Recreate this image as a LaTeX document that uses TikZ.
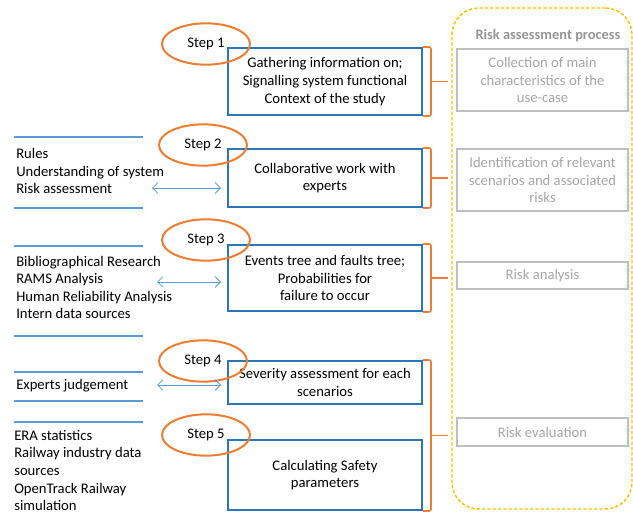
\documentclass[tikz,border=0pt]{standalone}
\usepackage{fontspec}
\setmainfont{Carlito}
\usepackage{tikz}
\usetikzlibrary{positioning,calc,arrows.meta,shapes.geometric}
\definecolor{boxblue}{RGB}{46,117,182}
\definecolor{lineblue}{RGB}{91,155,213}
\definecolor{steporange}{RGB}{237,125,49}
\definecolor{procyellow}{RGB}{255,192,0}
\definecolor{procgray}{RGB}{191,191,191}
\definecolor{proctext}{RGB}{166,166,166}
\tikzset{stepbox/.style={shape=rectangle, draw=boxblue, line width=1.5pt, minimum width=145.5pt, align=center}}
\tikzset{stepmark/.style={shape=ellipse, draw=steporange, line width=1.5pt, minimum width=66pt, minimum height=31pt, inner sep=0pt}}
\tikzset{riskbox/.style={shape=rectangle, draw=procgray, line width=1.1pt, text=proctext, minimum width=128.25pt, align=center}}
\tikzset{infotext/.style={anchor=west, align=left, inner sep=0pt}}
\tikzset{bracket/.style={draw=steporange, line width=1.2pt, rounded corners=1.5pt}}
\tikzset{twoway/.style={draw=lineblue, line width=0.6pt, {Straight Barb[length=4pt,width=8pt]}-{Straight Barb[length=4pt,width=8pt]}, shorten >=4.5pt}}
\tikzset{sepline/.style={draw=lineblue, line width=0.8pt}}

\begin{document}
\begin{tikzpicture}[x=0.75pt,y=-0.75pt,font=\fontsize{11}{13.2}\selectfont]
\useasboundingbox (0,0) rectangle (633,517);
%Process
\node[draw=procyellow, dash pattern=on 2.5pt off 1.5pt, line width=1.1pt, rounded corners=20pt, minimum width=135pt, minimum height=375.75pt] (process) at (542,258.5) {};
\node[text=proctext!90!black, font=\fontsize{10.8}{13}\selectfont\bfseries] (title) at (548,36) {Risk assessment process};
\node[riskbox, minimum height=46.5pt] (collect) at (542.5,80) {Collection of main\\characteristics of the\\use-case};
\node[riskbox, minimum height=46.5pt] (ident) at (542.5,180) {Identification of relevant\\scenarios and associated\\risks};
\node[riskbox, minimum height=20.25pt] (analysis) at (542.5,275.5) {Risk analysis};
\node[riskbox, minimum height=21pt] (evaluation) at (542.5,432) {Risk evaluation};
%Steps
\node[stepbox, minimum height=50.25pt] (box1) at (325,81.5) {Gathering information on;\\Signalling system functional\\Context of the study};
\node[stepbox, minimum height=43.5pt] (box2) at (325,178) {Collaborative work with\\experts};
\node[stepbox, minimum height=49.5pt] (box3) at (325,278) {Events tree and faults tree;\\Probabilities for\\failure to occur};
\node[stepbox, minimum height=32.25pt] (box4) at (325,382.5) {Severity assessment for each\\scenarios};
\node[stepbox, minimum height=52.5pt] (box5) at (325,475) {Calculating Safety\\parameters};
\node[stepmark] (step1) at (206,44) {Step 1};
\node[stepmark] (step2) at (203,145) {Step 2};
\node[stepmark] (step3) at (206,240) {Step 3};
\node[stepmark] (step4) at (203,361) {Step 4};
\node[stepmark] (step5) at (206,435) {Step 5};
%Inputs
\node[infotext] (info2) at (16,171) {Rules\\Understanding of system\\Risk assessment};
\node[infotext] (info3) at (16,287.5) {Bibliographical Research\\RAMS Analysis\\Human Reliability Analysis\\Intern data sources};
\node[infotext] (info4) at (16,386) {Experts judgement};
\node[infotext] (info5) at (14,470.5) {ERA statistics\\Railway industry data\\sources\\OpenTrack Railway\\simulation};
\coordinate (a2) at (152,188);
\coordinate (a3) at (157,282);
\coordinate (a4) at (157,385);
%Lines
\foreach \y in {137,208,246,336,372,401,422}
  \draw[sepline] (14,\y) -- (143,\y);
\draw[twoway] (a2) -- (a2 -| box2.west);
\draw[twoway] (a3) -- (a3 -| box3.west);
\draw[twoway] (a4) -- (a4 -| box4.west);
\foreach \b in {box1,box2,box3}{
  \draw[bracket] (\b.north east) -- ++(8,0) |- (\b.south east);
  \draw[bracket] (\b.east) ++(8,0) -- ++(17,0);
}
\draw[bracket] (box4.north east) -- ++(8,0) |- (box5.south east);
\draw[bracket] ($(box4.north east)!0.5!(box5.south east)+(8,0)$) -- ++(17,0);
\end{tikzpicture}
\end{document}
